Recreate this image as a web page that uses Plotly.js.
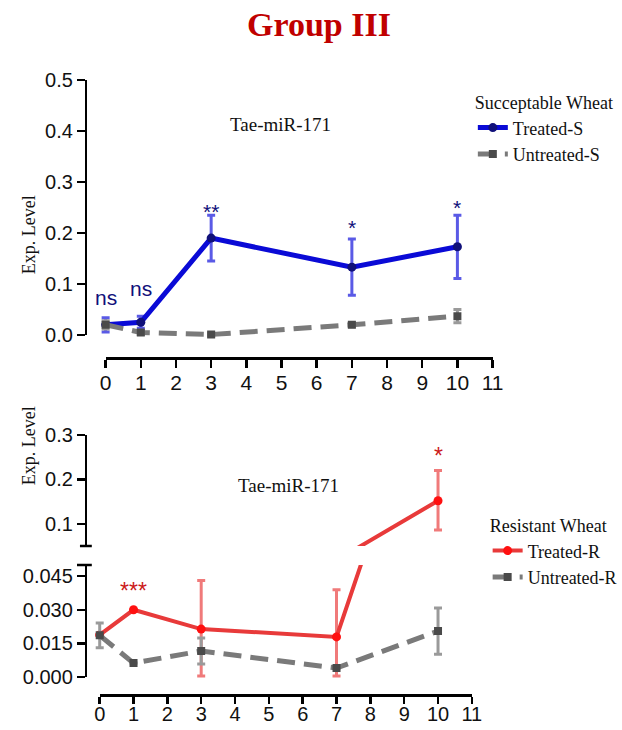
<!DOCTYPE html>
<html>
<head>
<meta charset="utf-8">
<script src="https://cdn.plot.ly/plotly-3.0.1.min.js"></script>
<style>html,body{margin:0;padding:0;background:#fff;}#chart{width:622px;height:730px;}</style>
</head>
<body>
<div id="chart"></div>
<script>
// ---------- data ----------
const days = [0, 1, 3, 7, 10];
const xTicks = [0, 1, 2, 3, 4, 5, 6, 7, 8, 9, 10, 11];

const treatedS = [0.020, 0.025, 0.190, 0.133, 0.173];
const treatedSErr = [0.014, 0.012, 0.045, 0.055, 0.062];
const untreatedS = [0.020, 0.005, 0.001, 0.020, 0.037];
const untreatedSErr = [0.008, 0.004, 0.003, 0.004, 0.013];

const treatedR = [0.0188, 0.0300, 0.0214, 0.0179, 0.152];
const treatedRErrPlus = [0, 0, 0.0217, 0.021, 0.068];
const treatedRErrMinus = [0, 0, 0.021, 0.0175, 0.066];
const untreatedR = [0.0186, 0.0062, 0.0116, 0.0040, 0.0205];
const untreatedRErr = [0.0055, 0, 0.0058, 0, 0.0103];

const sigS = ['ns', 'ns', '**', '*', '*'];
const sigSY = [0.0745, 0.092, 0.242, 0.211, 0.25];
const sigRDays = [1, 10];
const sigR = ['***', '*'];
const sigRY = [0.0382, 0.2516];

const topYTicks = [0, 0.1, 0.2, 0.3, 0.4, 0.5];
const lowYTicks = [0, 0.015, 0.030, 0.045];
const upYTicks = [0.1, 0.2, 0.3];

// ---------- helpers (layout positions in pixels) ----------
const W = 622, H = 730;
const px = v => v / W;
const py = v => 1 - v / H;

const serif = 'Liberation Serif, Times New Roman, serif';
const sans = 'Liberation Sans, Arial, sans-serif';

const blue = '#0a0ad6', blueErr = '#5a5ae6', navy = '#10107a';
const grayLine = '#7a7a7a', grayMk = '#4a4a4a', grayErr = '#9a9a9a';
const red = '#e83a3a', redMk = '#ff1010', redErr = '#f07a7a', redTxt = '#cc1a1a';

const traces = [
  {type:'scatter', mode:'lines+markers', name:'Treated-S', x:days, y:treatedS,
   xaxis:'x', yaxis:'y', legend:'legend',
   line:{color:blue, width:5}, marker:{symbol:'circle', size:9, color:navy},
   error_y:{type:'data', array:treatedSErr, color:blueErr, thickness:3, width:4}},
  {type:'scatter', mode:'lines+markers', name:'Untreated-S', x:days, y:untreatedS,
   xaxis:'x', yaxis:'y', legend:'legend',
   line:{color:grayLine, width:5, dash:'18px,9px'}, marker:{symbol:'square', size:8, color:grayMk},
   error_y:{type:'data', array:untreatedSErr, color:grayErr, thickness:3, width:4}},
  {type:'scatter', mode:'lines+markers', name:'Treated-R', x:days, y:treatedR,
   xaxis:'x3', yaxis:'y3', legend:'legend2',
   line:{color:red, width:4}, marker:{symbol:'circle', size:9, color:redMk},
   error_y:{type:'data', array:treatedRErrPlus, arrayminus:treatedRErrMinus, color:redErr, thickness:3, width:4}},
  {type:'scatter', mode:'lines+markers', name:'Treated-R', x:days, y:treatedR,
   xaxis:'x3', yaxis:'y4', legend:'legend2', showlegend:false,
   line:{color:red, width:4}, marker:{symbol:'circle', size:9, color:redMk},
   error_y:{type:'data', array:treatedRErrPlus, arrayminus:treatedRErrMinus, color:redErr, thickness:3, width:4}},
  {type:'scatter', mode:'lines+markers', name:'Untreated-R', x:days, y:untreatedR,
   xaxis:'x3', yaxis:'y3', legend:'legend2',
   line:{color:grayLine, width:5, dash:'18px,9px'}, marker:{symbol:'square', size:8, color:grayMk},
   error_y:{type:'data', array:untreatedRErr, color:grayErr, thickness:3, width:4}},
  // carriers for the display axes
  {type:'scatter', x:[], y:[], xaxis:'x2', yaxis:'y2', showlegend:false, hoverinfo:'skip'},
  {type:'scatter', x:[], y:[], xaxis:'x4', yaxis:'y5', showlegend:false, hoverinfo:'skip'},
  {type:'scatter', x:[], y:[], xaxis:'x4', yaxis:'y6', showlegend:false, hoverinfo:'skip'}
];

const hidden = {visible:false, showgrid:false, zeroline:false, fixedrange:true};
const axStyle = {showline:true, linecolor:'#000', linewidth:2.5, ticks:'outside', ticklen:8,
  tickwidth:2.5, tickcolor:'#000', showgrid:false, zeroline:false, fixedrange:true, anchor:'free'};
const xTickFont = {family:sans, size:21, color:'#111'};
const yTickFont = {family:sans, size:20, color:'#111'};

// top: 0..11 over px 107..499 ; bottom: 0..11 over px 101..478
const topU = (499 - 107) / 11, botU = (478 - 101) / 11;

const layout = {
  width: W, height: H,
  margin: {l:0, r:0, t:0, b:0},
  paper_bgcolor:'#fff', plot_bgcolor:'rgba(0,0,0,0)',
  showlegend: true,
  title: {text:'<b>Group III</b>', font:{family:serif, size:34, color:'#c00000'},
          x: px(319), xanchor:'center', y: py(24), yanchor:'middle'},
  // data axes (hidden)
  xaxis: Object.assign({}, hidden, {domain:[px(107 - topU/2), px(499 + topU/2)], range:[-0.5, 11.5], anchor:'y'}),
  yaxis: Object.assign({}, hidden, {domain:[py(335 + 0.03*510), py(80 - 0.03*510)], range:[-0.03, 0.53], anchor:'x'}),
  xaxis3: Object.assign({}, hidden, {domain:[px(101 - botU/2), px(478 + botU/2)], range:[-0.5, 11.5], anchor:'y3'}),
  yaxis3: Object.assign({}, hidden, {domain:[py(677 + 0.003*2240), py(565)], range:[-0.003, 0.05], anchor:'x3'}),
  yaxis4: Object.assign({}, hidden, {domain:[py(546), py(435 - 0.01*444)], range:[0.05, 0.31], anchor:'x3'}),
  // display axes
  xaxis2: Object.assign({}, axStyle, {domain:[px(107), px(499)], range:[0, 11], position:py(358),
    tickvals:xTicks, tickfont:xTickFont, ticklabelstandoff:-3}),
  yaxis2: Object.assign({}, axStyle, {domain:[py(335), py(80)], range:[0, 0.5], position:px(87),
    tickvals:topYTicks, tickformat:'.1f', tickfont:yTickFont}),
  xaxis4: Object.assign({}, axStyle, {domain:[px(101), px(478)], range:[0, 11], position:py(695),
    tickvals:xTicks, ticklen:7, tickfont:{family:sans, size:20, color:'#111'}, ticklabelstandoff:-7}),
  yaxis5: Object.assign({}, axStyle, {domain:[py(677), py(565)], range:[0, 0.05], position:px(87),
    tickvals:lowYTicks, tickformat:'.3f', tickfont:yTickFont}),
  yaxis6: Object.assign({}, axStyle, {domain:[py(546), py(435)], range:[0.05, 0.3], position:px(87),
    tickvals:upYTicks, tickformat:'.1f', tickfont:yTickFont}),
  legend: {x:px(479), y:py(86), xanchor:'left', yanchor:'top', bgcolor:'rgba(0,0,0,0)',
    title:{text:'Succeptable Wheat', font:{family:serif, size:18, color:'#111'}},
    font:{family:serif, size:18, color:'#111'}, itemwidth:30, tracegroupgap:0},
  legend2: {x:px(494), y:py(509), xanchor:'left', yanchor:'top', bgcolor:'rgba(0,0,0,0)',
    title:{text:'Resistant Wheat', font:{family:serif, size:18, color:'#111'}},
    font:{family:serif, size:18, color:'#111'}, itemwidth:30, tracegroupgap:0},
  shapes: [
    {type:'line', xref:'paper', yref:'paper', x0:px(78), x1:px(93), y0:py(565), y1:py(565), line:{color:'#000', width:2.5}},
    {type:'line', xref:'paper', yref:'paper', x0:px(81), x1:px(93), y0:py(546), y1:py(546), line:{color:'#000', width:2.5}}
  ],
  annotations: []
};

days.forEach((d, i) => {
  layout.annotations.push({xref:'x', yref:'y', x:d, y:sigSY[i], text:sigS[i], showarrow:false,
    xanchor:'center', yanchor:'middle', font:{family:sans, size:21, color:navy}});
});
sigRDays.forEach((d, i) => {
  layout.annotations.push({xref:'x3', yref: d === 10 ? 'y4' : 'y3', x:d, y:sigRY[i], text:sigR[i], showarrow:false,
    xanchor:'center', yanchor:'middle', font:{family:sans, size:23, color:redTxt}});
});
layout.annotations.push(
  {xref:'paper', yref:'paper', x:px(284), y:py(112), text:'Tae-miR-171', showarrow:false,
   font:{family:serif, size:19, color:'#111'}},
  {xref:'paper', yref:'paper', x:px(292), y:py(485), text:'Tae-miR-171', showarrow:false,
   font:{family:serif, size:19, color:'#111'}},
  {xref:'paper', yref:'paper', x:px(17), y:py(193), text:'Exp. Level', textangle:-90, showarrow:false,
   font:{family:serif, size:18, color:'#111'}},
  {xref:'paper', yref:'paper', x:px(17), y:py(487), text:'Exp. Level', textangle:-90, showarrow:false,
   font:{family:serif, size:18, color:'#111'}}
);

Plotly.newPlot('chart', traces, layout, {displayModeBar:false, staticPlot:true});
</script>
</body>
</html>
